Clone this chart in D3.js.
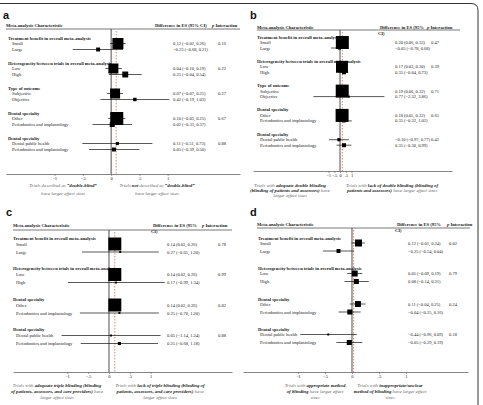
<!DOCTYPE html>
<html>
<head>
<meta charset="utf-8">
<script src="https://cdn.jsdelivr.net/npm/d3@7"></script>
<style>
body{margin:0;background:#fff}
svg{display:block}
text{font-family:"Liberation Serif","Times New Roman",serif;fill:#222}
</style>
</head>
<body>
<svg id="chart"></svg>
<script>
// ---- data ----
var groupsA = ["Treatment benefit in overall meta-analysis","Heterogeneity between trials in overall meta-analysis","Type of outcome","Dental specialty","Dental specialty"];
var itemsA = [["Small","Large"],["Low","High"],["Subjective","Objective"],["Other","Periodontics and implantology"],["Dental public health","Periodontics and implantology"]];
var estA = [0.12,-0.23,0.04,0.25,0.07,0.42,0.10,0.02,0.11,0.05];
var loA = [-0.02,-0.68,-0.10,-0.04,-0.07,-0.19,-0.05,-0.33,-0.51,-0.39];
var hiA = [0.26,0.21,0.19,0.54,0.21,1.03,0.25,0.37,0.73,0.50];
var weightA = [62,8,51,18,51,6,86,13,5,8];
var pA = ["0.16","0.22","0.27","0.67","0.88"];
var overallA = 0.09;

var groupsB = groupsA;
var itemsB = itemsA;
var estB = [0.20,-0.05,0.17,0.35,0.19,0.77,0.18,0.35,-0.10,0.35];
var loB = [0.06,-0.78,0.03,-0.04,0.06,-2.32,0.05,-0.32,-0.97,-0.30];
var hiB = [0.33,0.68,0.30,0.73,0.32,3.86,0.32,1.02,0.77,0.99];
var weightB = [86,5,73,8,86,2,86,5,5,8];
var pB = ["0.47","0.39","0.71","0.65","0.42"];
var overallB = 0.2;

var groupsC = ["Treatment benefit in overall meta-analysis","Heterogeneity between trials in overall meta-analysis","Dental specialty","Dental specialty"];
var itemsC = [["Small","Large"],["Low","High"],["Other","Periodontics and implantology"],["Dental public health","Periodontics and implantology"]];
var estC = [0.14,0.27,0.14,0.17,0.14,0.25,0.05,0.25];
var loC = [0.02,-0.65,0.02,-0.99,0.02,-0.70,-1.14,-0.68];
var hiC = [0.26,1.20,0.26,1.34,0.26,1.20,1.24,1.18];
var weightC = [86,2,86,2,86,2,2,5];
var pC = ["0.78","0.99","0.82","0.88"];
var overallC = 0.14;

var groupsD = groupsC;
var itemsD = itemsC;
var estD = [0.12,-0.25,0.05,0.08,0.11,-0.04,-0.44,-0.05];
var loD = [-0.01,-0.54,-0.09,-0.14,-0.04,-0.25,-0.96,-0.29];
var hiD = [0.24,0.04,0.19,0.31,0.25,0.16,0.09,0.19];
var weightD = [25,8,18,13,18,13,2,13];
var pD = ["0.02","0.79","0.24","0.18"];
var overallD = 0.03;

var tickValues = [-1,-0.5,0,0.5,1];

// footer texts: [text, bold]
var footA = [[[["Trials described as ",0],["\u201cdouble-blind\u201d",1]],[["have larger effect sizes",0]]],
             [[["Trials ",0],["not",1],[" described as ",0],["\u201cdouble-blind\u201d",1]],[["have larger effect sizes",0]]]];
var footB = [[[["Trials with ",0],["adequate double blinding",1]],[["(blinding of patients and assessors)",1],[" have",0]],[["larger effect sizes",0]]],
             [[["Trials with ",0],["lack of double blinding (blinding of",1]],[["patients and assessors)",1],[" have larger effect sizes",0]]]];
var footC = [[[["Trials with ",0],["adequate triple blinding (blinding",1]],[["of patients, assessors, and care providers)",1],[" have",0]],[["larger effect sizes",0]]],
             [[["Trials with ",0],["lack of triple blinding (blinding of",1]],[["patients, assessors, and care providers)",1],[" have",0]],[["larger effect sizes",0]]]];
var footD = [[[["Trials with ",0],["appropriate method",1]],[["of blinding",1],[" have larger effect",0]],[["sizes",0]]],
             [[["Trials with ",0],["inappropriate/unclear",1]],[["method of blinding",1],[" have larger effect",0]],[["sizes",0]]]];

// ---- layout ----
var screen = {width:483, height:405};
var panels = [
  {letter:"a", lx:3, ly:19, groups:groupsA, items:itemsA, est:estA, lo:loA, hi:hiA, w:weightA, p:pA, overall:overallA, foot:footA,
   left:6, right:240, domain:[-1.86,2.28], headY:25, lineY:29, top:38, hGap:5.5, iStep:6, gStep:25, axisY:174,
   labX:8, itemX:12, valX:173, pX:218, diffX:155, pHeadX:212, wrap:false, footY:185, footGap:7.7, footX:[63,157]},
  {letter:"b", lx:250, ly:19, groups:groupsB, items:itemsB, est:estB, lo:loB, hi:hiB, w:weightB, p:pB, overall:overallB, foot:footB,
   left:253, right:452, domain:[-7.57,9.74], headY:27, lineY:30, top:37, hGap:5.5, iStep:5.5, gStep:24.3, axisY:171,
   labX:257, itemX:260, valX:395, pX:431, diffX:380, pHeadX:427, wrap:true, footY:185, footGap:4.8, footX:[290,392], headLeft:257, headRight:460},
  {letter:"c", lx:6, ly:216, groups:groupsC, items:itemsC, est:estC, lo:loC, hi:hiC, w:weightC, p:pC, overall:overallC, foot:footC,
   left:13, right:232, domain:[-2.31,2.96], headY:225, lineY:230, top:238, hGap:6, iStep:8, gStep:30.5, axisY:372,
   labX:13, itemX:16, valX:167, pX:218, diffX:153, pHeadX:202, wrap:true, footY:385, footGap:5.8, footX:[57,160]},
  {letter:"d", lx:250, ly:216, groups:groupsD, items:itemsD, est:estD, lo:loD, hi:hiD, w:weightD, p:pD, overall:overallD, foot:footD,
   left:243, right:468, domain:[-2.02,2.15], headY:224, lineY:228, top:238, hGap:5, iStep:8, gStep:30.5, axisY:372,
   labX:258, itemX:260, valX:408, pX:449, diffX:397, pHeadX:447, wrap:true, footY:385, footGap:6, footX:[315,390], headLeft:257, headRight:470}
];

var svg = d3.select("#chart").attr("width",screen.width).attr("height",screen.height);

// outer frame
svg.append("path")
  .attr("d","M0,3.5 H471 Q478,3.5 478,10.5 V405")
  .attr("fill","none").attr("stroke","#333").attr("stroke-width",1);

var fmt = d3.format(".2f");
var sizeScale = d3.scaleSqrt().domain([0,100]).range([0,14]);

var drawPanel = function(cfg)
{
  var g = svg.append("g");
  var xScale = d3.scaleLinear().domain(cfg.domain).range([cfg.left,cfg.right]);
  var hl = cfg.headLeft || cfg.left, hr = cfg.headRight || cfg.right;

  g.append("text").attr("x",cfg.lx).attr("y",cfg.ly)
    .style("font-family","'Liberation Sans',Arial,sans-serif")
    .style("font-weight","bold").style("font-size","11px").style("fill","#111")
    .text(cfg.letter);

  // header
  g.append("text").attr("x",hl).attr("y",cfg.headY).attr("dominant-baseline","central")
    .style("font-size","4.6px").style("font-weight","bold").text("Meta-analysis Characteristic");
  var dt = g.append("text").attr("x",cfg.diffX).attr("y",cfg.headY).attr("dominant-baseline","central")
    .style("font-size","4.6px").style("font-weight","bold");
  if (cfg.wrap) {
    dt.text("Difference in ES (95%");
    g.append("text").attr("x",cfg.diffX - 2).attr("y",cfg.headY+6).attr("dominant-baseline","central")
      .style("font-size","4.6px").style("font-weight","bold").text("CI)");
  } else {
    dt.text("Difference in ES (95% CI)");
  }
  var pt = g.append("text").attr("x",cfg.pHeadX).attr("y",cfg.headY).attr("dominant-baseline","central")
    .style("font-size","4.6px").style("font-weight","bold");
  pt.append("tspan").style("font-style","italic").text("p");
  pt.append("tspan").text(" Interaction");

  g.append("line").attr("x1",hl).attr("x2",hr).attr("y1",cfg.lineY).attr("y2",cfg.lineY)
    .attr("stroke","#555").attr("stroke-width",0.8);

  // rows
  var rows = [];
  var k = 0;
  cfg.groups.forEach(function(name,gi)
  {
    var gy = cfg.top + gi*cfg.gStep;
    rows.push({type:"head", text:name, y:gy});
    cfg.items[gi].forEach(function(it,ii)
    {
      rows.push({type:"item", text:it, y:gy+cfg.hGap+ii*cfg.iStep, est:cfg.est[k], lo:cfg.lo[k], hi:cfg.hi[k], w:cfg.w[k],
                 p: ii===0 ? cfg.p[gi] : null});
      k++;
    });
  });

  // zero line and overall dashed line
  g.append("line").attr("x1",xScale(0)).attr("x2",xScale(0)).attr("y1",cfg.lineY).attr("y2",cfg.axisY)
    .attr("stroke","#222").attr("stroke-width",0.8);
  g.append("line").attr("x1",xScale(cfg.overall)).attr("x2",xScale(cfg.overall)).attr("y1",cfg.lineY+2).attr("y2",cfg.axisY)
    .attr("stroke","#c0392b").attr("stroke-width",0.6).attr("stroke-dasharray","1.5,1.5");

  g.selectAll("text.lab").data(rows).enter().append("text")
    .classed("lab",true)
    .attr("x",function(d){return d.type==="head"?cfg.labX:cfg.itemX;})
    .attr("y",function(d){return d.y;})
    .attr("dominant-baseline","central")
    .style("font-size","4.6px")
    .style("font-weight",function(d){return d.type==="head"?"bold":"normal";})
    .text(function(d){return d.text;});

  var items = rows.filter(function(d){return d.type==="item";});

  g.selectAll("line.ci").data(items).enter().append("line")
    .classed("ci",true)
    .attr("x1",function(d){return xScale(d.lo);})
    .attr("x2",function(d){return xScale(d.hi);})
    .attr("y1",function(d){return d.y;})
    .attr("y2",function(d){return d.y;})
    .attr("stroke","#111").attr("stroke-width",0.7);

  g.selectAll("rect.box").data(items).enter().append("rect")
    .classed("box",true)
    .attr("x",function(d){return xScale(d.est)-sizeScale(d.w)/2;})
    .attr("y",function(d){return d.y-sizeScale(d.w)/2;})
    .attr("width",function(d){return sizeScale(d.w);})
    .attr("height",function(d){return sizeScale(d.w);})
    .attr("fill","#000");

  g.selectAll("text.val").data(items).enter().append("text")
    .classed("val",true)
    .attr("x",cfg.valX).attr("y",function(d){return d.y;})
    .attr("dominant-baseline","central").style("font-size","4.5px")
    .text(function(d){return fmt(d.est)+" ("+fmt(d.lo)+", "+fmt(d.hi)+")";});

  g.selectAll("text.pv").data(items.filter(function(d){return d.p;})).enter().append("text")
    .classed("pv",true)
    .attr("x",cfg.pX).attr("y",function(d){return d.y;})
    .attr("dominant-baseline","central").style("font-size","4.5px")
    .text(function(d){return d.p;});

  // axis
  var xAxis = d3.axisBottom(xScale)
    .tickValues(tickValues)
    .tickSize(2)
    .tickSizeOuter(0)
    .tickFormat(function(d){return d===0?"0":String(d).replace("0.",".");});
  var ax = g.append("g").attr("transform","translate(0,"+cfg.axisY+")").call(xAxis);
  ax.select(".domain").attr("stroke","#666").attr("stroke-width",0.8);
  ax.selectAll(".tick line").attr("stroke","#666").attr("stroke-width",0.6);
  ax.selectAll(".tick text").attr("y",3).style("font-size","4.6px")
    .style("font-family","'Liberation Serif',serif").attr("fill","#444");

  // footers
  cfg.foot.forEach(function(lines,side)
  {
    lines.forEach(function(segs,li)
    {
      var t = g.append("text").attr("x",cfg.footX[side]).attr("y",cfg.footY+li*cfg.footGap)
        .attr("text-anchor","middle").attr("dominant-baseline","central")
        .style("font-size","4.8px").style("font-style","italic");
      segs.forEach(function(s)
      {
        t.append("tspan").text(s[0])
          .style("font-weight",s[1]?"bold":"normal")
          .style("fill",s[1]?"#222":"#666");
      });
    });
  });
};

panels.forEach(drawPanel);
</script>
</body>
</html>
